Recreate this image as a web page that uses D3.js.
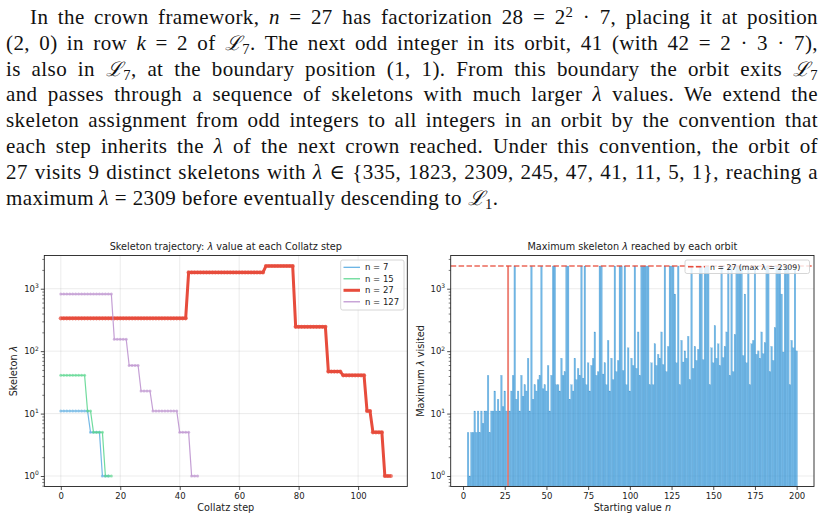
<!DOCTYPE html>
<html>
<head>
<meta charset="utf-8">
<script src="https://cdn.jsdelivr.net/npm/d3@7"></script>
<style>
  body { margin: 0; background: #fff; }
  #wrap { position: relative; width: 826px; height: 520px; overflow: hidden; background: #fff; }
  #para .ln {
    position: absolute; white-space: nowrap;
    font-family: "Liberation Serif", "DejaVu Serif", serif; font-size: 21px; line-height: 25.8px;
    letter-spacing: 0.4px;
    color: #111; text-align: justify; text-align-last: justify;
  }
  #para .ln.last { text-align-last: left; }
  #para sup { font-size: 0.7em; vertical-align: 0.45em; line-height: 0; }
  #para sub { font-size: 0.7em; vertical-align: -0.25em; line-height: 0; }
  #para .cal { font-family: "DejaVu Serif", serif; font-style: italic; font-size: 0.95em; }
  svg { position: absolute; left: 0; top: 0; }
  svg text { font-family: "DejaVu Sans", sans-serif; }
</style>
</head>
<body>
<div id="wrap"><div id="para"></div></div>
<script>
// paragraph above the figure
const paraLines = [
  'In the crown framework, <i>n</i> = 27 has factorization 28 = 2<sup>2</sup> · 7, placing it at position',
  '(2, 0) in row <i>k</i> = 2 of <span class="cal">ℒ</span><sub>7</sub>. The next odd integer in its orbit, 41 (with 42 = 2 · 3 · 7),',
  'is also in <span class="cal">ℒ</span><sub>7</sub>, at the boundary position (1, 1). From this boundary the orbit exits <span class="cal">ℒ</span><sub>7</sub>',
  'and passes through a sequence of skeletons with much larger <i>λ</i> values. We extend the',
  'skeleton assignment from odd integers to all integers in an orbit by the convention that',
  'each step inherits the <i>λ</i> of the next crown reached. Under this convention, the orbit of',
  '27 visits 9 distinct skeletons with <i>λ</i> ∈ {335, 1823, 2309, 245, 47, 41, 11, 5, 1}, reaching a',
  'maximum <i>λ</i> = 2309 before eventually descending to <span class="cal">ℒ</span><sub>1</sub>.'
];

// left panel: skeleton lambda at each Collatz step
const seriesLabels = ['n = 7', 'n = 15', 'n = 27', 'n = 127'];
const traj7 = [11,11,11,11,11,11,11,11,11,11,5,5,5,5,1,1,1];
const traj15 = [41,41,41,41,41,41,41,41,41,11,11,5,5,5,5,1,1,1];
const traj27 = [
  335,335,335,335,335,335,335,335,335,335,335,335,335,335,335,335,335,335,335,335,
  335,335,335,335,335,335,335,335,335,335,335,335,335,335,335,335,335,335,335,335,
  335,335,335,
  1823,1823,1823,1823,1823,1823,1823,1823,1823,1823,1823,1823,1823,1823,1823,1823,
  1823,1823,1823,1823,1823,1823,1823,1823,1823,1823,
  2309,2309,2309,2309,2309,2309,2309,2309,2309,2309,
  245,245,245,245,245,245,245,245,245,245,245,
  47,47,47,47,47,
  41,41,41,41,41,41,41,41,
  11,11,
  5,5,5,5,
  1,1,1
];
const traj127 = [
  821,821,821,821,821,821,821,821,821,821,821,821,821,821,821,821,821,821,
  155,155,155,155,155,
  59,59,59,59,
  23,23,23,23,
  11,11,11,11,11,11,11,11,11,
  5,5,5,5,
  1,1,1
];
const trajectories = [traj7, traj15, traj27, traj127];
const seriesColors = ['#5dade2', '#58d68d', '#e74c3c', '#bb8fce'];

// right panel: maximum lambda for starting values 3..200
const firstStart = 3;
const highlightN = 27;
const highlightMax = 2309;
const maxLambda = [
  5,1,5,5,11,5,11,5,11,7,
  11,11,41,5,11,11,23,11,17,11,
  41,13,23,11,2309,11,23,41,2309,17,
  23,11,41,19,29,23,77,11,2309,17,
  29,23,35,41,2309,25,29,23,59,11,
  41,2309,2309,29,29,23,77,41,47,2309,
  2309,17,29,23,77,35,53,41,2309,37,
  2309,29,65,23,59,77,203,41,47,2309,
  2309,43,65,29,149,23,77,35,2309,47,
  71,2309,2309,49,2309,29,113,23,77,59,
  2309,53,203,41,2309,2309,2309,2309,2309,29,
  65,29,131,59,89,77,203,61,2309,47,
  119,2309,2309,2309,821,65,2309,29,149,67,
  101,77,173,35,2309,53,119,71,107,2309,
  2309,73,2309,2309,2309,29,113,65,257,77,
  131,59,2309,79,119,203,2309,41,2309,47,
  185,2309,2309,2309,2309,85,821,65,2309,29,
  131,149,2309,89,101,77,203,91,137,2309,
  2309,47,119,71,239,2309,2309,2309,821,97,
  2309,2309,2309,29,149,113,2309,101
];
const stepTicks = [0, 20, 40, 60, 80, 100];
const startTicks = [0, 25, 50, 75, 100, 125, 150, 175, 200];
const decadeTicks = [1, 10, 100, 1000];

// ---- paragraph
d3.select('#para').selectAll('div.ln')
  .data(paraLines)
  .join('div')
  .attr('class', (d, i) => i === paraLines.length - 1 ? 'ln last' : 'ln')
  .style('left', (d, i) => (i === 0 ? 30 : 6) + 'px')
  .style('width', (d, i) => (i === 0 ? 788 : 812) + 'px')
  .style('top', (d, i) => (5 + 25.8 * i) + 'px')
  .html(d => d);

// ---- figure
const svg = d3.select('#wrap').append('svg').attr('width', 826).attr('height', 520);

const plotTop = 255.5, plotBottom = 486.5;
const y = d3.scaleLog().domain([Math.pow(10, -0.168), Math.pow(10, 3.532)]).range([plotBottom, plotTop]);
const minorTicks = [];
[0.1, 1, 10, 100, 1000].forEach(b => {
  for (let k = 2; k <= 9; k++) {
    const v = b * k;
    if (v >= y.domain()[0] && v <= y.domain()[1]) minorTicks.push(v);
  }
});

function grid(g, x, left, right, xTicks, yOnly) {
  g.append('g').selectAll('line').data(decadeTicks).join('line')
    .attr('x1', left).attr('x2', right)
    .attr('y1', d => y(d)).attr('y2', d => y(d))
    .attr('stroke', '#b0b0b0').attr('stroke-opacity', 0.3).attr('stroke-width', 0.8);
  if (!yOnly) {
    g.append('g').selectAll('line').data(xTicks).join('line')
      .attr('x1', d => x(d)).attr('x2', d => x(d))
      .attr('y1', plotTop).attr('y2', plotBottom)
      .attr('stroke', '#b0b0b0').attr('stroke-opacity', 0.3).attr('stroke-width', 0.8);
  }
}

function axes(g, x, left, right, xTicks, title, xLabel, yLabel) {
  const cx = (left + right) / 2;
  // x axis
  const xa = g.append('g').attr('transform', `translate(0,${plotBottom})`)
    .call(d3.axisBottom(x).tickValues(xTicks).tickSize(3.5).tickPadding(2.5).tickFormat(d3.format('d')));
  xa.select('.domain').remove();
  xa.selectAll('line').attr('stroke', '#222').attr('stroke-width', 0.8);
  xa.selectAll('text').attr('font-size', 8.5).attr('fill', '#222').attr('font-family', 'DejaVu Sans');

  // y axis major + minor
  const ya = g.append('g').attr('transform', `translate(${left},0)`)
    .call(d3.axisLeft(y).tickValues(decadeTicks).tickSize(3.5).tickFormat(''));
  ya.select('.domain').remove();
  ya.selectAll('line').attr('stroke', '#222').attr('stroke-width', 0.8);
  const ym = g.append('g').attr('transform', `translate(${left},0)`)
    .call(d3.axisLeft(y).tickValues(minorTicks).tickSize(2).tickFormat(''));
  ym.select('.domain').remove();
  ym.selectAll('line').attr('stroke', '#222').attr('stroke-width', 0.6);

  const lab = g.append('g').selectAll('text').data(decadeTicks).join('text')
    .attr('x', left - 5.5).attr('y', d => y(d) + 3.2)
    .attr('text-anchor', 'end').attr('font-size', 8.5).attr('fill', '#222');
  lab.append('tspan').text('10');
  lab.append('tspan').attr('dy', -3.8).attr('font-size', 6).text(d => Math.round(Math.log10(d)));

  // spines
  g.append('rect').attr('x', left).attr('y', plotTop)
    .attr('width', right - left).attr('height', plotBottom - plotTop)
    .attr('fill', 'none').attr('stroke', '#222').attr('stroke-width', 0.9);

  // title and labels
  const t = g.append('text').attr('x', cx).attr('y', 250)
    .attr('text-anchor', 'middle').attr('font-size', 9.7).attr('fill', '#222');
  title.forEach(p => t.append('tspan').attr('font-style', p.it ? 'italic' : null).text(p.s));

  const xl = g.append('text').attr('x', cx).attr('y', 511)
    .attr('text-anchor', 'middle').attr('font-size', 9.7).attr('fill', '#222');
  xLabel.forEach(p => xl.append('tspan').attr('font-style', p.it ? 'italic' : null).text(p.s));

  const yl = g.append('text')
    .attr('transform', `translate(${left - 27},${(plotTop + plotBottom) / 2}) rotate(-90)`)
    .attr('text-anchor', 'middle').attr('font-size', 9.7).attr('fill', '#222');
  yLabel.forEach(p => yl.append('tspan').attr('font-style', p.it ? 'italic' : null).text(p.s));
}

// ---- left panel
const L = { left: 44.3, right: 407.3 };
const xL = d3.scaleLinear().domain([-5.55, 116.55]).range([L.left, L.right]);
const gL = svg.append('g');
grid(gL, xL, L.left, L.right, stepTicks, false);

const line = d3.line().x((d, i) => xL(i)).y(d => y(d));
trajectories.forEach((tr, si) => {
  const thick = si === 2;
  const s = gL.append('g').attr('opacity', thick ? 1 : 0.85);
  s.append('path').datum(tr)
    .attr('d', line)
    .attr('fill', 'none')
    .attr('stroke', seriesColors[si])
    .attr('stroke-width', thick ? 3 : 1.2)
    .attr('stroke-linejoin', 'round');
  s.append('g').selectAll('circle').data(tr).join('circle')
    .attr('cx', (d, i) => xL(i)).attr('cy', d => y(d))
    .attr('r', thick ? 2.1 : 1.5)
    .attr('fill', seriesColors[si]).attr('fill-opacity', 0.75);
});

axes(gL, xL, L.left, L.right, stepTicks,
  [{ s: 'Skeleton trajectory: ' }, { s: 'λ', it: true }, { s: ' value at each Collatz step' }],
  [{ s: 'Collatz step' }],
  [{ s: 'Skeleton ' }, { s: 'λ', it: true }]);

// legend left
const lg = gL.append('g');
lg.append('rect').attr('x', 340.7).attr('y', 260).attr('width', 63.3).attr('height', 50).attr('rx', 2)
  .attr('fill', '#fff').attr('fill-opacity', 0.8).attr('stroke', '#ccc').attr('stroke-width', 0.8);
seriesLabels.forEach((lbl, i) => {
  const yy = 267.3 + 11.5 * i;
  lg.append('line').attr('x1', 343.5).attr('x2', 360).attr('y1', yy).attr('y2', yy)
    .attr('stroke', seriesColors[i]).attr('stroke-width', i === 2 ? 3 : 1.2);
  lg.append('text').attr('x', 365).attr('y', yy + 3).attr('font-size', 8.5).attr('fill', '#222').text(lbl);
});

// ---- right panel
const R = { left: 450.7, right: 814 };
const xR = d3.scaleLinear().domain([-7.4, 210.4]).range([R.left, R.right]);
const gR = svg.append('g');
grid(gR, xR, R.left, R.right, startTicks, true);

const bw = xR(1) - xR(0);
gR.append('g').selectAll('rect').data(maxLambda).join('rect')
  .attr('x', (d, i) => xR(firstStart + i) - bw / 2)
  .attr('width', bw)
  .attr('y', d => y(d))
  .attr('height', d => plotBottom - y(d))
  .attr('fill', (d, i) => firstStart + i === highlightN ? '#e74c3c' : '#3498db')
  .attr('fill-opacity', 0.7)
  .attr('stroke', (d, i) => firstStart + i === highlightN ? '#e74c3c' : '#2e86c1')
  .attr('stroke-opacity', 0.5)
  .attr('stroke-width', 0.3);

gR.append('line')
  .attr('x1', R.left).attr('x2', R.right)
  .attr('y1', y(highlightMax)).attr('y2', y(highlightMax))
  .attr('stroke', '#e74c3c').attr('stroke-opacity', 0.85).attr('stroke-width', 1.5)
  .attr('stroke-dasharray', '5.5,2.4');

axes(gR, xR, R.left, R.right, startTicks,
  [{ s: 'Maximum skeleton ' }, { s: 'λ', it: true }, { s: ' reached by each orbit' }],
  [{ s: 'Starting value ' }, { s: 'n', it: true }],
  [{ s: 'Maximum ' }, { s: 'λ', it: true }, { s: ' visited' }]);

// legend right
const lr = gR.append('g');
lr.append('rect').attr('x', 685).attr('y', 260).attr('width', 124.5).attr('height', 13.5).attr('rx', 2)
  .attr('fill', '#fff').attr('fill-opacity', 0.8).attr('stroke', '#ccc').attr('stroke-width', 0.8);
lr.append('line').attr('x1', 688).attr('x2', 705).attr('y1', 266.7).attr('y2', 266.7)
  .attr('stroke', '#e74c3c').attr('stroke-width', 1.5).attr('stroke-dasharray', '5.5,2.4');
lr.append('text').attr('x', 710).attr('y', 269.8).attr('font-size', 7.8).attr('fill', '#222')
  .text(`n = ${highlightN} (max λ = ${highlightMax})`);
</script>
</body>
</html>
